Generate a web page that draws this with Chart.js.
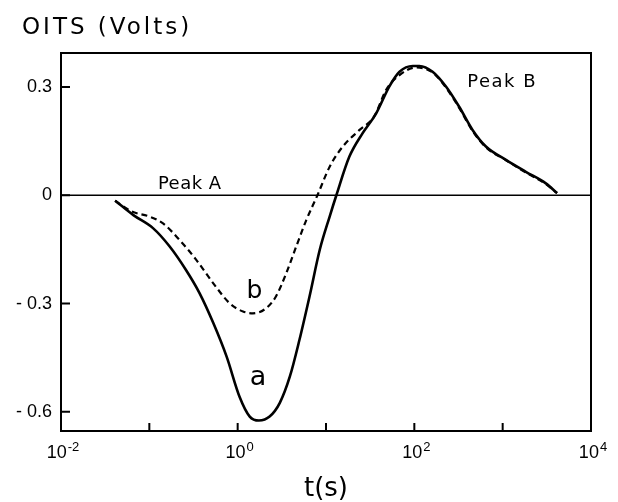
<!DOCTYPE html>
<html>
<head>
<meta charset="utf-8">
<script src="https://cdn.jsdelivr.net/npm/chart.js@4.4.1/dist/chart.umd.min.js"></script>
<style>
  html, body { margin: 0; padding: 0; background: #fff; }
  canvas { display: block; }
</style>
</head>
<body>
<canvas id="c" width="618" height="502"></canvas>
<script>
// ---- data ----
const timeA  = [0.041, 0.066, 0.11, 0.17, 0.26, 0.37, 0.53, 0.75, 1.05, 1.37, 1.74, 2.3, 3.0, 3.9, 5.0, 6.5, 8.5, 11, 13.1, 18.4, 26, 37, 52, 68, 96, 114, 161, 228, 322, 456, 646, 1090, 1830, 3080, 4130];
const voltsA = [-0.015, -0.055, -0.091, -0.142, -0.207, -0.271, -0.354, -0.447, -0.558, -0.613, -0.624, -0.613, -0.575, -0.502, -0.401, -0.281, -0.151, -0.059, 0.0, 0.107, 0.172, 0.227, 0.301, 0.342, 0.358, 0.358, 0.342, 0.301, 0.245, 0.181, 0.135, 0.098, 0.065, 0.033, 0.006];

const timeB  = [0.041, 0.063, 0.10, 0.143, 0.22, 0.34, 0.53, 0.81, 1.15, 1.49, 2.1, 2.7, 3.55, 4.6, 6.0, 8.0, 11, 15.5, 24, 35, 48, 68, 105, 161, 228, 322, 456, 646, 1090, 1830, 3080, 4130];
const voltsB = [-0.015, -0.045, -0.059, -0.078, -0.124, -0.179, -0.244, -0.299, -0.322, -0.327, -0.313, -0.281, -0.216, -0.142, -0.068, 0.0, 0.079, 0.135, 0.181, 0.218, 0.292, 0.333, 0.354, 0.340, 0.298, 0.242, 0.178, 0.133, 0.097, 0.063, 0.031, 0.006];

const xTickValues = [0.01, 0.1, 1, 10, 100, 1000, 10000];
const xTickExponents = ['-2', null, '0', null, '2', null, '4'];
const yTickValues = [-0.6, -0.3, 0, 0.3];
const yTickLabels = ['- 0.6', '- 0.3', '0', '0.3'];

const yTitle = 'OITS (Volts)';
const xTitle = 't(s)';
const annotations = [
  { text: 'Peak A', t: 0.125, v: 0.0 },
  { text: 'Peak B', t: 397, v: 0.3 },
  { text: 'b', t: 1.26, v: -0.284 },
  { text: 'a', t: 1.37, v: -0.525 }
];

const toPts = (xs, ys) => xs.map((x, i) => ({ x: x, y: ys[i] }));

const framePlugin = {
  id: 'frame',
  beforeDatasetsDraw(chart) {
    const { ctx, chartArea: a, scales: { y } } = chart;
    const y0 = y.getPixelForValue(0);
    ctx.save();
    ctx.strokeStyle = '#000';
    ctx.lineWidth = 1.5;
    ctx.beginPath();
    ctx.moveTo(a.left, y0);
    ctx.lineTo(a.right, y0);
    ctx.stroke();
    ctx.restore();
  },
  afterDraw(chart) {
    const { ctx, chartArea: a, scales: { x, y } } = chart;
    ctx.save();
    ctx.strokeStyle = '#000';
    ctx.lineWidth = 2;
    ctx.strokeRect(a.left, a.top, a.right - a.left, a.bottom - a.top);
    ctx.beginPath();
    xTickValues.forEach(v => {
      const px = x.getPixelForValue(v);
      ctx.moveTo(px, a.bottom);
      ctx.lineTo(px, a.bottom - 8);
    });
    yTickValues.forEach(v => {
      const py = y.getPixelForValue(v);
      ctx.moveTo(a.left, py);
      ctx.lineTo(a.left + 9, py);
    });
    ctx.stroke();

    ctx.fillStyle = '#000';
    ctx.textBaseline = 'alphabetic';
    ctx.textAlign = 'left';

    // x tick labels: 10 with superscript exponent
    xTickValues.forEach((v, i) => {
      const e = xTickExponents[i];
      if (e === null) return;
      const px = x.getPixelForValue(v);
      ctx.font = '18px "Liberation Sans"';
      const wb = ctx.measureText('10').width;
      ctx.font = '13px "Liberation Sans"';
      const we = ctx.measureText(e).width;
      const left = px - (wb + we + 1) / 2 + 2;
      ctx.font = '18px "Liberation Sans"';
      ctx.fillText('10', left, a.bottom + 27);
      ctx.font = '13px "Liberation Sans"';
      ctx.fillText(e, left + wb + 1, a.bottom + 20);
    });

    // y-axis title
    ctx.font = '23px "DejaVu Sans"';
    ctx.letterSpacing = '3px';
    ctx.fillText(yTitle, 22, 34);
    // annotations
    const styles = {
      'Peak A': { font: '18px "DejaVu Sans"', ls: '0.5px', dy: -6 },
      'Peak B': { font: '18px "DejaVu Sans"', ls: '1.5px', dy: 0 },
      'b': { font: '25px "DejaVu Sans"', ls: '0px', dy: 0 },
      'a': { font: '27px "DejaVu Sans"', ls: '0px', dy: 0 }
    };
    annotations.forEach(an => {
      const s = styles[an.text];
      ctx.font = s.font;
      ctx.letterSpacing = s.ls;
      ctx.fillText(an.text, x.getPixelForValue(an.t), y.getPixelForValue(an.v) + s.dy);
    });
    ctx.restore();
  }
};

new Chart(document.getElementById('c'), {
  type: 'line',
  data: {
    datasets: [
      {
        label: 'a',
        data: toPts(timeA, voltsA),
        borderColor: '#000',
        borderWidth: 2.6,
        pointRadius: 0,
        fill: false,
        cubicInterpolationMode: 'monotone'
      },
      {
        label: 'b',
        data: toPts(timeB, voltsB),
        borderColor: '#000',
        borderWidth: 2.2,
        borderDash: [6, 4],
        pointRadius: 0,
        fill: false,
        cubicInterpolationMode: 'monotone'
      }
    ]
  },
  options: {
    responsive: false,
    animation: false,
    layout: { padding: { top: 53, right: 27, left: 0, bottom: 0 } },
    plugins: { legend: { display: false }, tooltip: { enabled: false } },
    scales: {
      x: {
        type: 'logarithmic',
        min: 0.01,
        max: 10000,
        afterBuildTicks: s => { s.ticks = xTickValues.map(v => ({ value: v })); },
        afterFit: s => { s.height = 71; },
        grid: { display: false, drawTicks: false },
        border: { display: false },
        ticks: { display: false },
        title: {
          display: true,
          text: xTitle,
          color: '#000',
          font: { family: 'DejaVu Sans', size: 26, lineHeight: 1 },
          padding: 0
        }
      },
      y: {
        min: -0.653,
        max: 0.394,
        afterBuildTicks: s => { s.ticks = yTickValues.map(v => ({ value: v })); },
        afterFit: s => { s.width = 61; },
        grid: { display: false, drawTicks: false },
        border: { display: false },
        ticks: {
          padding: 9,
          color: '#000',
          font: { family: 'Liberation Sans', size: 18 },
          callback: (v, i) => yTickLabels[i]
        }
      }
    }
  },
  plugins: [framePlugin]
});
</script>
</body>
</html>
